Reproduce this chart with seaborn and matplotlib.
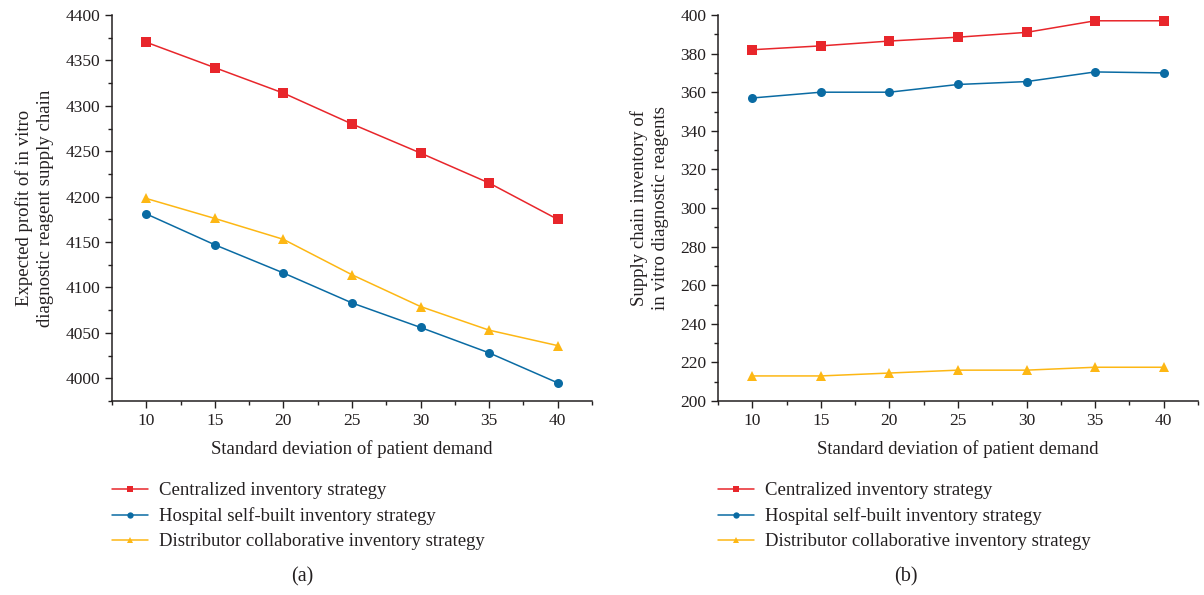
import seaborn as sns
import pandas as pd
import matplotlib
matplotlib.use("Agg")
import matplotlib.pyplot as plt
from matplotlib.ticker import MultipleLocator

# data
sd = [10, 15, 20, 25, 30, 35, 40]
strategies = ["Centralized inventory strategy",
              "Hospital self-built inventory strategy",
              "Distributor collaborative inventory strategy"]

profit_central = [4370, 4342, 4314, 4280, 4248, 4215, 4175]
profit_hospital = [4181, 4147, 4116, 4083, 4056, 4028, 3995]
profit_distrib = [4198, 4176, 4153, 4114, 4079, 4053, 4036]

stock_central = [382, 384, 386.5, 388.5, 391, 397, 397]
stock_hospital = [357, 360, 360, 364, 365.5, 370.5, 370]
stock_distrib = [213, 213, 214.5, 216, 216, 217.5, 217.5]

colors = ["#E8262B", "#0A6BA3", "#FDB714"]
markers = ["s", "o", "^"]

sns.set_style("ticks")
plt.rcParams["font.family"] = ["Liberation Serif", "DejaVu Serif"]
plt.rcParams["text.color"] = "#231F20"
plt.rcParams["axes.labelcolor"] = "#231F20"
plt.rcParams["xtick.color"] = "#231F20"
plt.rcParams["ytick.color"] = "#231F20"

fig = plt.figure(figsize=(12.04, 5.95), dpi=100)
ax1 = fig.add_axes([0.093, 0.326, 0.3987, 0.6488])
ax2 = fig.add_axes([0.5963, 0.326, 0.3987, 0.6488])

panels = [
    (ax1, [profit_central, profit_hospital, profit_distrib],
     "Expected profit of in vitro\ndiagnostic reagent supply chain", (3975, 4400), 50, 25, "(a)", 0.396),
    (ax2, [stock_central, stock_hospital, stock_distrib],
     "Supply chain inventory of\nin vitro diagnostic reagents", (200, 400), 20, 10, "(b)", 0.392),
]

for ax, series, ylabel, ylim, major, minor, tag, tag_x in panels:
    for name, vals, c, m in zip(strategies, series, colors, markers):
        df = pd.DataFrame({"sd": sd, "value": vals})
        sns.lineplot(data=df, x="sd", y="value", ax=ax, color=c, marker=m,
                     markersize=6.5, markeredgewidth=0, linewidth=1.1, label=name)
    ax.set_xlim(7.5, 42.5)
    ax.set_ylim(*ylim)
    ax.set_xticks(sd)
    ax.xaxis.set_minor_locator(MultipleLocator(2.5))
    ax.yaxis.set_major_locator(MultipleLocator(major))
    ax.yaxis.set_minor_locator(MultipleLocator(minor))
    ax.tick_params(which="major", direction="out", length=5, width=1, labelsize=12.5)
    ax.tick_params(which="minor", direction="out", length=3, width=1)
    for s in ["top", "right"]:
        ax.spines[s].set_visible(False)
    for s in ["left", "bottom"]:
        ax.spines[s].set_linewidth(1.1)
        ax.spines[s].set_color("#231F20")
    ax.set_xlabel("Standard deviation of patient demand", fontsize=13.5, labelpad=8)
    ax.set_ylabel(ylabel, fontsize=13.5, linespacing=1.3, labelpad=8)
    ax.legend(loc="upper left", bbox_to_anchor=(-0.015, -0.191), frameon=False,
              fontsize=13.5, handlelength=1.9, handletextpad=0.6, labelspacing=0.42,
              markerscale=0.7, borderaxespad=0)
    ax.text(tag_x, -0.456, tag, transform=ax.transAxes, fontsize=14.5, ha="center", va="center")

fig.savefig("out.png", dpi=100)
